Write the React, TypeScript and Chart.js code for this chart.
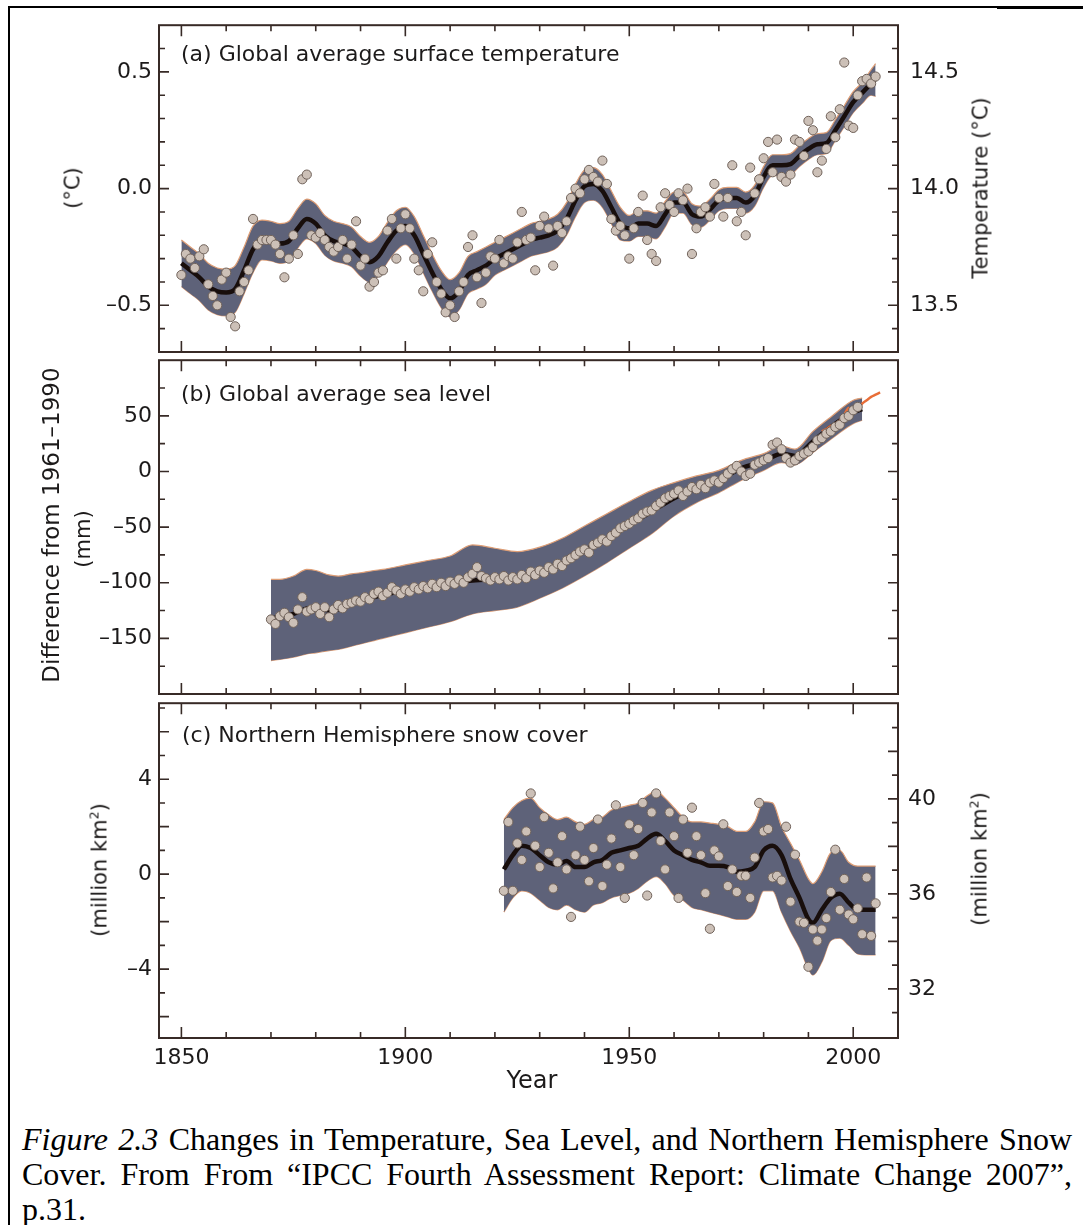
import React, { useEffect, useRef } from 'react';
import { Chart, registerables } from 'chart.js';

Chart.register(...registerables);

// ---------------- data ----------------
const X_MIN = 1845;
const X_MAX = 2010;
const X_TICK_LABELS = [1850, 1900, 1950, 2000];

// (a) global average surface temperature, anomaly (°C)
const TEMP_START_YEAR = 1850;
const TEMP_ANNUAL = [
  -0.37, -0.28, -0.30, -0.34, -0.29, -0.26, -0.41, -0.46, -0.50, -0.39,
  -0.36, -0.55, -0.59, -0.44, -0.40, -0.35, -0.13, -0.24, -0.22, -0.22,
  -0.22, -0.24, -0.28, -0.38, -0.30, -0.20, -0.28, 0.04, 0.06, -0.20,
  -0.21, -0.19, -0.22, -0.25, -0.27, -0.25, -0.22, -0.30, -0.24, -0.14,
  -0.33, -0.30, -0.42, -0.40, -0.36, -0.35, -0.18, -0.13, -0.30, -0.17,
  -0.11, -0.17, -0.30, -0.35, -0.44, -0.28, -0.23, -0.40, -0.45, -0.53,
  -0.50, -0.55, -0.44, -0.40, -0.25, -0.20, -0.38, -0.49, -0.36, -0.29,
  -0.30, -0.22, -0.32, -0.29, -0.30, -0.23, -0.10, -0.22, -0.21, -0.35,
  -0.16, -0.12, -0.17, -0.33, -0.16, -0.19, -0.14, -0.04, 0.00, -0.02,
  0.04, 0.08, 0.05, 0.03, 0.12, 0.02, -0.13, -0.18, -0.16, -0.20,
  -0.30, -0.17, -0.10, -0.03, -0.22, -0.28, -0.31, -0.08, -0.02, -0.07,
  -0.10, -0.02, -0.05, 0.00, -0.28, -0.17, -0.10, -0.08, -0.12, 0.02,
  -0.04, -0.12, -0.04, 0.10, -0.14, -0.10, -0.20, 0.09, -0.02, 0.04,
  0.13, 0.20, 0.07, 0.21, 0.05, 0.03, 0.06, 0.21, 0.20, 0.14,
  0.29, 0.25, 0.07, 0.12, 0.17, 0.31, 0.22, 0.34, 0.54, 0.27,
  0.26, 0.40, 0.46, 0.47, 0.45, 0.48,
];
const TEMP_SMOOTH_YEARS = [
  1850, 1852, 1854, 1856, 1858, 1860, 1862, 1864, 1866, 1868, 1870, 1872, 1874, 1876, 1878,
  1880, 1882, 1884, 1886, 1888, 1890, 1892, 1894, 1896, 1898, 1900, 1902, 1904, 1906, 1908,
  1910, 1912, 1914, 1916, 1918, 1920, 1922, 1924, 1926, 1928, 1930, 1932, 1934, 1936, 1938,
  1940, 1942, 1944, 1946, 1948, 1950, 1952, 1954, 1956, 1958, 1960, 1962, 1964, 1966, 1968,
  1970, 1972, 1974, 1976, 1978, 1980, 1982, 1984, 1986, 1988, 1990, 1992, 1994, 1996, 1998,
  2000, 2002, 2004, 2005,
];
const TEMP_SMOOTH = [
  -0.32, -0.35, -0.38, -0.42, -0.44, -0.445, -0.43, -0.35, -0.26, -0.22, -0.225, -0.235, -0.225, -0.17, -0.13,
  -0.15, -0.20, -0.225, -0.235, -0.25, -0.29, -0.315, -0.29, -0.23, -0.18, -0.16, -0.20, -0.28, -0.36, -0.43,
  -0.47, -0.44, -0.37, -0.35, -0.33, -0.30, -0.28, -0.26, -0.24, -0.22, -0.21, -0.20, -0.18, -0.13, -0.05,
  0.01, 0.02, -0.01, -0.08, -0.15, -0.17, -0.15, -0.15, -0.16, -0.11, -0.06, -0.06, -0.11, -0.12, -0.09,
  -0.05, -0.04, -0.04, -0.06, -0.03, 0.05, 0.10, 0.10, 0.105, 0.14, 0.17, 0.19, 0.195, 0.25, 0.31,
  0.37, 0.41, 0.45, 0.47,
];
const TEMP_UPPER = [
  -0.22, -0.25, -0.28, -0.32, -0.34, -0.345, -0.33, -0.25, -0.16, -0.135, -0.14, -0.15, -0.14, -0.085, -0.045,
  -0.065, -0.115, -0.14, -0.15, -0.165, -0.205, -0.23, -0.205, -0.145, -0.095, -0.08, -0.12, -0.20, -0.28, -0.35,
  -0.39, -0.36, -0.29, -0.27, -0.25, -0.23, -0.21, -0.19, -0.17, -0.15, -0.14, -0.13, -0.11, -0.06, 0.02,
  0.08, 0.09, 0.06, -0.01, -0.08, -0.115, -0.095, -0.095, -0.105, -0.055, -0.015, -0.015, -0.065, -0.075, -0.045,
  -0.005, 0.005, 0.005, -0.015, 0.015, 0.095, 0.145, 0.145, 0.15, 0.185, 0.215, 0.235, 0.24, 0.295, 0.355,
  0.415, 0.455, 0.51, 0.535,
];
const TEMP_LOWER = [
  -0.42, -0.45, -0.48, -0.52, -0.54, -0.545, -0.53, -0.45, -0.36, -0.305, -0.31, -0.32, -0.31, -0.255, -0.215,
  -0.235, -0.285, -0.31, -0.32, -0.335, -0.375, -0.40, -0.375, -0.315, -0.265, -0.24, -0.28, -0.36, -0.44, -0.51,
  -0.55, -0.52, -0.45, -0.43, -0.41, -0.37, -0.35, -0.33, -0.31, -0.29, -0.28, -0.27, -0.25, -0.20, -0.12,
  -0.06, -0.05, -0.08, -0.15, -0.22, -0.225, -0.205, -0.205, -0.215, -0.165, -0.105, -0.105, -0.155, -0.165, -0.135,
  -0.095, -0.085, -0.085, -0.105, -0.075, 0.005, 0.055, 0.055, 0.06, 0.095, 0.125, 0.145, 0.15, 0.205, 0.265,
  0.325, 0.365, 0.40, 0.395,
];
const TEMP_LEFT_LABELS = [-0.5, 0, 0.5];
const TEMP_RIGHT_LABELS = [13.5, 14.0, 14.5];
const TEMP_ABSOLUTE_OFFSET = 14.0;

// (b) global average sea level (mm)
const SEA_START_YEAR = 1870;
const SEA_ANNUAL = [
  -133, -137, -130, -127, -131, -136, -124, -113, -126, -124,
  -122, -128, -122, -131, -124, -120, -123, -119, -118, -116,
  -117, -113, -115, -110, -108, -112, -109, -104, -107, -110,
  -106, -108, -104, -106, -103, -105, -101, -104, -100, -103,
  -99, -101, -97, -100, -95, -92, -86, -94, -96, -98,
  -95, -97, -94, -98, -95, -97, -93, -96, -90, -93,
  -89, -91, -86, -88, -83, -85, -80, -78, -75, -72,
  -70, -73, -66, -64, -61, -63, -58, -55, -51, -49,
  -47, -44, -42, -38, -36, -35, -31, -28, -24, -22,
  -20, -17, -22, -18, -14, -16, -12, -15, -10, -8,
  -10, -6, -2, 2, 5, 0, -4, -2, 6, 8,
  10, 12, 24, 26, 20, 12, 8, 10, 14, 16,
  18, 22, 28, 30, 34, 36, 40, 42, 48, 50,
  55, 58,
];
const SEA_SMOOTH_YEARS = [
  1870, 1872, 1875, 1878, 1880, 1883, 1885, 1888, 1890, 1893, 1895, 1900, 1905, 1910, 1915, 1920, 1925,
  1930, 1935, 1940, 1945, 1950, 1955, 1960, 1965, 1970, 1975, 1980, 1984, 1987, 1991, 1995, 2000, 2002,
];
const SEA_SMOOTH = [
  -132, -131, -128, -123, -122, -125, -124, -118, -116, -113, -111, -107, -104, -101, -98, -97, -96,
  -90, -83, -71, -60, -48, -36, -24, -15, -8, 3, 9, 16, 14, 27, 40, 53, 56,
];
const SEA_UPPER = [
  -97, -97, -94, -88, -89, -93, -94, -92, -91, -89, -88, -84, -80, -76, -66, -69, -72,
  -68, -60, -49, -38, -27, -17, -10, -4, 1, 10, 16, 23, 20, 36, 49, 64, 66,
];
const SEA_LOWER = [
  -170, -169, -167, -164, -163, -161, -160, -157, -155, -152, -150, -145, -140, -135, -128, -125, -122,
  -114, -105, -94, -82, -69, -56, -40, -28, -19, -8, 1, 8, 6, 17, 29, 43, 46,
];
const SAT_YEARS = [1993, 1994, 1995, 1996, 1997, 1998, 1999, 2000, 2001, 2002, 2003, 2004, 2005, 2006];
const SAT_VALUES = [36, 38, 41, 43, 46, 51, 57, 54, 56, 61, 64, 67, 69, 71];
const SEA_LEFT_LABELS = [-150, -100, -50, 0, 50];

// (c) Northern Hemisphere snow cover (million km²)
const SNOW_START_YEAR = 1922;
const SNOW_ANNUAL = [
  -0.7, 2.2, -0.7, 1.3, 0.6, 1.8, 3.4, 1.2,
  0.3, 2.4, 0.9, -0.6, 0.5, 1.6, 0.2, -1.8, 0.8, 2.0,
  0.6, -0.3, 1.1, 2.3, -0.5, 0.4, 1.5, 2.9, 0.3, -1.0,
  2.1, 0.8, 1.9, 3.0, -0.9, 2.6, 3.4, 1.4, 0.2, 2.6,
  1.6, -1.0, 2.3, 0.9, 2.8, 1.6, 0.8, -0.8, -2.3, 1.0,
  0.75, 2.1, -0.5, 0.2, -0.75, -0.07, -0.07, -1.0, 0.7, 3.0,
  1.8, 1.9, -0.14, -0.07, -0.27, 2.0, -1.16, 0.82, -2.0, -2.05,
  -3.9, -2.33, -2.8, -2.33, -1.85, -0.75, 1.03, -1.5, -0.2, -1.7,
  -1.9, -1.44, -2.53, -0.14, -2.6, -1.23,
];
const SNOW_SMOOTH_YEARS = [
  1922, 1924, 1926, 1928, 1930, 1932, 1934, 1936, 1938, 1940, 1942, 1944, 1946, 1948, 1950,
  1952, 1954, 1956, 1958, 1960, 1962, 1964, 1966, 1968, 1970, 1972, 1974, 1976, 1978, 1980,
  1982, 1984, 1986, 1988, 1990, 1991, 1993, 1995, 1997, 1999, 2001, 2003, 2005,
];
const SNOW_SMOOTH = [
  0.2, 0.8, 1.2, 1.1, 0.8, 0.5, 0.4, 0.55, 0.3, 0.3, 0.5, 0.6, 0.9, 1.0, 1.1,
  1.2, 1.5, 1.7, 1.4, 1.0, 0.8, 0.6, 0.5, 0.35, 0.35, 0.3, 0.1, 0.15, 0.3, 1.0,
  1.2, 0.8, -0.2, -1.0, -1.9, -2.05, -1.5, -1.0, -0.82, -1.2, -1.5, -1.5, -1.5,
];
const SNOW_UPPER = [
  2.3, 2.8, 3.1, 3.2, 2.8, 2.5, 2.3, 2.4, 2.2, 2.1, 2.3, 2.4, 2.7, 2.8, 2.9,
  3.0, 3.3, 3.5, 3.2, 2.8, 2.4, 2.2, 2.2, 2.15, 2.1, 2.0, 1.8, 1.8, 2.2, 3.05,
  3.0, 2.0, 1.3, 0.6, -0.2, -0.4, 0.1, 0.9, 1.0, 0.5, 0.34, 0.34, 0.34,
];
const SNOW_LOWER = [
  -1.6, -1.0, -0.7, -0.8, -1.1, -1.4, -1.5, -1.3, -1.5, -1.6, -1.3, -1.2, -1.0, -0.9, -0.8,
  -0.6, -0.3, -0.1, -0.4, -0.9, -1.1, -1.4, -1.5, -1.6, -1.7, -1.8, -1.9, -1.9, -1.6, -0.7,
  -0.7, -1.6, -2.4, -3.1, -4.0, -4.25, -3.7, -2.8, -2.7, -3.0, -3.36, -3.4, -3.4,
];
const SNOW_LEFT_LABELS = [-4, 0, 4];
const SNOW_RIGHT_LABELS = [32, 36, 40];
const SNOW_ABSOLUTE_OFFSET = 36.83;

// ---------------- styling ----------------
const TICK_FONT = { family: '"DejaVu Sans", sans-serif', size: 22 };
const TEXT_COLOR = '#1c1a1a';
const FRAME_COLOR = 'rgb(55,42,38)';
const BAND_FILL = 'rgb(94,98,121)';
const BAND_EDGE = 'rgb(222,158,118)';
const CURVE_COLOR = 'rgb(24,14,12)';
const POINT_FILL = 'rgb(204,192,183)';
const POINT_EDGE = 'rgb(112,98,90)';
const SAT_COLOR = 'rgb(232,110,56)';

const PAGE_W = 1083;
const AREA_LEFT = 159;
const AREA_RIGHT = 898;

const has = (arr: number[], v: number) => arr.some((a) => Math.abs(a - v) < 1e-6);
const dash = (s: string) => s.replace('-', '\u2013');

function annual(start: number, ys: number[]) {
  return ys.map((y, i) => ({ x: start + i, y }));
}
function pairs(xs: number[], ys: number[]) {
  return ys.map((y, i) => ({ x: xs[i], y }));
}

const AX = { xAxisID: 'x', yAxisID: 'yl' };

function seriesSet(points: any[], smoothX: number[], smooth: number[], upper: number[], lower: number[], extra: any[] = []) {
  return [
    {
      ...AX,
      data: points,
      showLine: false,
      pointRadius: 4.6,
      pointBackgroundColor: POINT_FILL,
      pointBorderColor: POINT_EDGE,
      pointBorderWidth: 1,
      order: 0,
    },
    ...extra.map((d) => ({ ...AX, ...d })),
    {
      ...AX,
      data: pairs(smoothX, smooth),
      borderColor: CURVE_COLOR,
      borderWidth: 4.5,
      pointRadius: 0,
      cubicInterpolationMode: 'monotone',
      fill: false,
      order: 2,
    },
    {
      ...AX,
      data: pairs(smoothX, upper),
      borderColor: BAND_EDGE,
      borderWidth: 1.2,
      pointRadius: 0,
      cubicInterpolationMode: 'monotone',
      backgroundColor: BAND_FILL,
      fill: '+1',
      order: 3,
    },
    {
      ...AX,
      data: pairs(smoothX, lower),
      borderColor: BAND_EDGE,
      borderWidth: 1.2,
      pointRadius: 0,
      cubicInterpolationMode: 'monotone',
      fill: false,
      order: 4,
    },
  ];
}

type AxisSpec = {
  min: number;
  max: number;
  step: number;
  labels: number[];
  majors: number[];
  fmt: (v: number) => string;
  padding: number;
};

function frameTicksPlugin(leftMajors: number[], rightMajors: number[]) {
  return {
    id: 'frameTicks',
    afterDatasetsDraw(chart: any) {
      const { ctx, chartArea: a } = chart;
      ctx.save();
      ctx.strokeStyle = FRAME_COLOR;
      ctx.lineWidth = 1.6;
      ctx.beginPath();
      const xs = chart.scales.x;
      for (const t of xs.ticks) {
        const px = xs.getPixelForValue(t.value);
        if (px <= a.left + 2 || px >= a.right - 2) continue;
        const L = has(X_TICK_LABELS, t.value) ? 11 : 6;
        ctx.moveTo(px, a.top);
        ctx.lineTo(px, a.top + L);
        ctx.moveTo(px, a.bottom);
        ctx.lineTo(px, a.bottom - L);
      }
      const sides: [string, number[]][] = [
        ['yl', leftMajors],
        ['yr', rightMajors],
      ];
      for (const [id, majors] of sides) {
        const s = chart.scales[id];
        for (const t of s.ticks) {
          const py = s.getPixelForValue(t.value);
          if (py <= a.top + 2 || py >= a.bottom - 2) continue;
          const L = has(majors, t.value) ? 10 : 6;
          if (id === 'yl') {
            ctx.moveTo(a.left, py);
            ctx.lineTo(a.left + L, py);
          } else {
            ctx.moveTo(a.right, py);
            ctx.lineTo(a.right - L, py);
          }
        }
      }
      ctx.stroke();
      ctx.lineWidth = 2;
      ctx.strokeRect(a.left, a.top, a.right - a.left, a.bottom - a.top);
      ctx.restore();
    },
  };
}

function yScale(spec: AxisSpec, position: 'left' | 'right', width: number, showLabels: boolean) {
  return {
    type: 'linear',
    axis: 'y',
    position,
    min: spec.min,
    max: spec.max,
    grid: { display: false, drawTicks: false },
    border: { display: false },
    ticks: {
      display: showLabels,
      stepSize: spec.step,
      includeBounds: false,
      autoSkip: false,
      maxTicksLimit: 200,
      padding: spec.padding,
      font: TICK_FONT,
      color: TEXT_COLOR,
      callback: (v: number) => (has(spec.labels, v) ? spec.fmt(v) : ''),
    },
    afterFit: (s: any) => {
      s.width = width;
    },
  };
}

function makeConfig(opts: {
  datasets: any[];
  padTop: number;
  padBottom: number;
  left: AxisSpec;
  right: AxisSpec;
  rightLabels: boolean;
  showX: boolean;
  xHeight: number;
}) {
  return {
    type: 'line',
    data: { datasets: opts.datasets },
    options: {
      animation: false,
      responsive: false,
      maintainAspectRatio: false,
      events: [],
      layout: { padding: { top: opts.padTop, bottom: opts.padBottom, left: 0, right: 0 } },
      plugins: { legend: { display: false }, tooltip: { enabled: false }, title: { display: false } },
      scales: {
        x: {
          type: 'linear',
          axis: 'x',
          position: 'bottom',
          min: X_MIN,
          max: X_MAX,
          display: opts.showX,
          grid: { display: false, drawTicks: false },
          border: { display: false },
          ticks: {
            stepSize: 10,
            includeBounds: false,
            autoSkip: false,
            maxRotation: 0,
            minRotation: 0,
            padding: 7,
            font: TICK_FONT,
            color: TEXT_COLOR,
            callback: (v: number) => (has(X_TICK_LABELS, v) ? String(v) : ''),
          },
          afterFit: (s: any) => {
            s.height = opts.xHeight;
          },
        },
        yl: yScale(opts.left, 'left', AREA_LEFT, true),
        yr: yScale(opts.right, 'right', PAGE_W - AREA_RIGHT, opts.rightLabels),
      },
    },
    plugins: [frameTicksPlugin(opts.left.majors, opts.right.majors)],
  };
}

function PanelCanvas({ top, height, build }: { top: number; height: number; build: () => any }) {
  const ref = useRef<HTMLCanvasElement | null>(null);
  useEffect(() => {
    if (!ref.current) return;
    const chart = new Chart(ref.current, build());
    return () => chart.destroy();
  }, []);
  return (
    <canvas
      ref={ref}
      width={PAGE_W}
      height={height}
      style={{ position: 'absolute', left: 0, top, width: PAGE_W, height, display: 'block' }}
    />
  );
}

const buildA = () =>
  makeConfig({
    datasets: seriesSet(annual(TEMP_START_YEAR, TEMP_ANNUAL), TEMP_SMOOTH_YEARS, TEMP_SMOOTH, TEMP_UPPER, TEMP_LOWER),
    padTop: 10,
    padBottom: 28,
    left: {
      min: -0.7,
      max: 0.7,
      step: 0.1,
      labels: TEMP_LEFT_LABELS,
      majors: TEMP_LEFT_LABELS,
      fmt: (v) => dash(v.toFixed(1)),
      padding: 7,
    },
    right: {
      min: -0.7 + TEMP_ABSOLUTE_OFFSET,
      max: 0.7 + TEMP_ABSOLUTE_OFFSET,
      step: 0.1,
      labels: TEMP_RIGHT_LABELS,
      majors: TEMP_RIGHT_LABELS,
      fmt: (v) => v.toFixed(1),
      padding: 12,
    },
    rightLabels: true,
    showX: false,
    xHeight: 0,
  });

const buildB = () =>
  makeConfig({
    datasets: seriesSet(annual(SEA_START_YEAR, SEA_ANNUAL), SEA_SMOOTH_YEARS, SEA_SMOOTH, SEA_UPPER, SEA_LOWER, [
      {
        data: pairs(SAT_YEARS, SAT_VALUES),
        borderColor: SAT_COLOR,
        borderWidth: 2.5,
        pointRadius: 0,
        tension: 0.3,
        fill: false,
        order: 1,
      },
    ]),
    padTop: 12,
    padBottom: 26,
    left: {
      min: -200,
      max: 100,
      step: 25,
      labels: SEA_LEFT_LABELS,
      majors: SEA_LEFT_LABELS,
      fmt: (v) => dash(String(v)),
      padding: 7,
    },
    right: {
      min: -200,
      max: 100,
      step: 25,
      labels: [],
      majors: SEA_LEFT_LABELS,
      fmt: (v) => String(v),
      padding: 12,
    },
    rightLabels: false,
    showX: false,
    xHeight: 0,
  });

const buildC = () =>
  makeConfig({
    datasets: seriesSet(annual(SNOW_START_YEAR, SNOW_ANNUAL), SNOW_SMOOTH_YEARS, SNOW_SMOOTH, SNOW_UPPER, SNOW_LOWER),
    padTop: 14,
    padBottom: 0,
    left: {
      min: -6.9,
      max: 7.2,
      step: 1,
      labels: SNOW_LEFT_LABELS,
      majors: [-6, -4, -2, 0, 2, 4, 6],
      fmt: (v) => dash(String(v)),
      padding: 7,
    },
    right: {
      min: -6.9 + SNOW_ABSOLUTE_OFFSET,
      max: 7.2 + SNOW_ABSOLUTE_OFFSET,
      step: 1,
      labels: SNOW_RIGHT_LABELS,
      majors: [32, 34, 36, 38, 40, 42],
      fmt: (v) => String(v),
      padding: 10,
    },
    rightLabels: true,
    showX: true,
    xHeight: 62,
  });

const SANS = '"DejaVu Sans", sans-serif';

function Rotated({ cx, cy, size, children }: { cx: number; cy: number; size: number; children: React.ReactNode }) {
  return (
    <div
      style={{
        position: 'absolute',
        left: cx,
        top: cy,
        transform: 'translate(-50%, -50%) rotate(-90deg)',
        whiteSpace: 'nowrap',
        fontFamily: SANS,
        fontSize: size,
        lineHeight: `${Math.round(size * 1.2)}px`,
        color: TEXT_COLOR,
      }}
    >
      {children}
    </div>
  );
}

function PanelLabel({ left, top, text }: { left: number; top: number; text: string }) {
  return (
    <div
      style={{
        position: 'absolute',
        left,
        top,
        fontFamily: SANS,
        fontSize: 22,
        lineHeight: '26px',
        whiteSpace: 'nowrap',
        color: TEXT_COLOR,
      }}
    >
      {text}
    </div>
  );
}

export default function App() {
  const captionLine: React.CSSProperties = {
    textAlign: 'justify',
    textAlignLast: 'justify',
    whiteSpace: 'normal',
  };
  return (
    <div
      style={{
        position: 'absolute',
        left: 0,
        top: 0,
        width: PAGE_W,
        height: 1225,
        background: '#fff',
        overflow: 'hidden',
      }}
    >
      {/* border of the figure box */}
      <div style={{ position: 'absolute', left: 8, top: 6, width: 2, height: 1219, background: '#000' }} />
      <div style={{ position: 'absolute', left: 8, top: 6, width: 989, height: 2, background: '#000' }} />
      <div style={{ position: 'absolute', left: 997, top: 6, width: 86, height: 3, background: '#000' }} />

      <PanelCanvas top={0} height={380} build={buildA} />
      <PanelCanvas top={340} height={380} build={buildB} />
      <PanelCanvas top={680} height={420} build={buildC} />

      <PanelLabel left={181} top={41} text="(a) Global average surface temperature" />
      <PanelLabel left={181} top={381} text="(b) Global average sea level" />
      <PanelLabel left={182} top={722} text="(c) Northern Hemisphere snow cover" />

      <Rotated cx={73} cy={188} size={21}>(°C)</Rotated>
      <Rotated cx={981} cy={188} size={21}>Temperature (°C)</Rotated>
      <Rotated cx={51} cy={525} size={23}>Difference from 1961–1990</Rotated>
      <Rotated cx={83} cy={539} size={21}>(mm)</Rotated>
      <Rotated cx={100} cy={870} size={21}>
        (million km<sup style={{ fontSize: '0.6em', lineHeight: 0 }}>2</sup>)
      </Rotated>
      <Rotated cx={980} cy={859} size={21}>
        (million km<sup style={{ fontSize: '0.6em', lineHeight: 0 }}>2</sup>)
      </Rotated>

      <div
        style={{
          position: 'absolute',
          left: 532,
          top: 1066,
          transform: 'translateX(-50%)',
          fontFamily: SANS,
          fontSize: 24,
          lineHeight: '28px',
          color: TEXT_COLOR,
          whiteSpace: 'nowrap',
        }}
      >
        Year
      </div>

      <div
        style={{
          position: 'absolute',
          left: 22,
          top: 1122,
          width: 1050,
          fontFamily: '"Liberation Serif", "Times New Roman", serif',
          fontSize: 32,
          lineHeight: '35px',
          color: '#000',
        }}
      >
        <div style={captionLine}>
          <i>Figure 2.3</i> Changes in Temperature, Sea Level, and Northern Hemisphere Snow
        </div>
        <div style={captionLine}>Cover. From From “IPCC Fourth Assessment Report: Climate Change 2007”,</div>
        <div>p.31.</div>
      </div>
    </div>
  );
}
